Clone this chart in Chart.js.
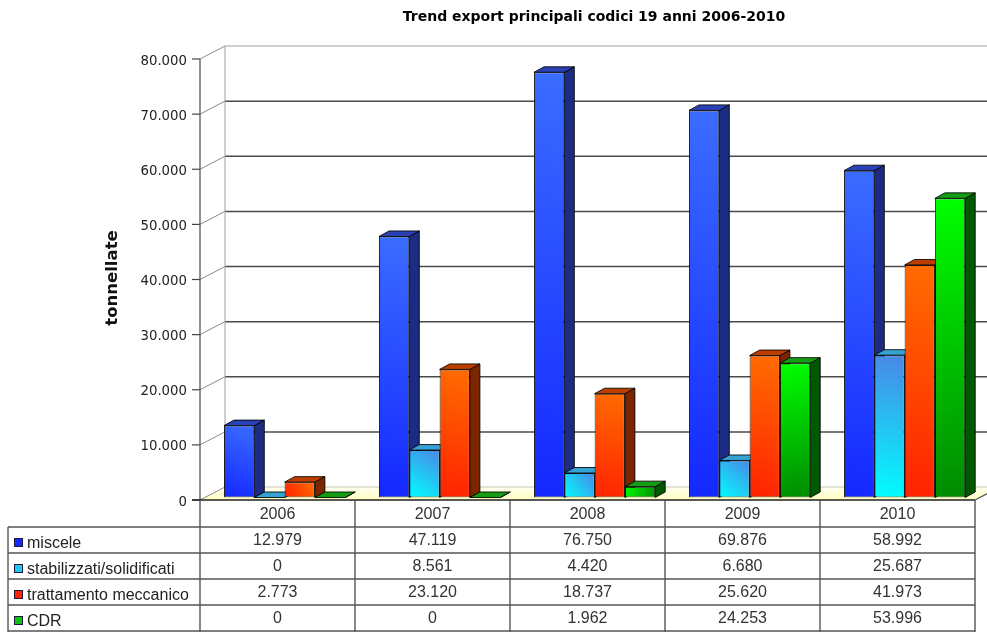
<!DOCTYPE html>
<html>
<head>
<meta charset="utf-8">
<script src="https://cdn.jsdelivr.net/npm/chart.js@4.4.1/dist/chart.umd.min.js"></script>
<style>
  html, body { margin: 0; padding: 0; background: #fff; }
  canvas { display: block; }
</style>
</head>
<body>
<canvas id="chart" width="987" height="632"></canvas>
<script>
// ---- data ----
const years = ['2006', '2007', '2008', '2009', '2010'];
const seriesNames = ['miscele', 'stabilizzati/solidificati', 'trattamento meccanico', 'CDR'];
const miscele = [12979, 47119, 76750, 69876, 58992];
const stabilizzati = [0, 8561, 4420, 6680, 25687];
const trattamento = [2773, 23120, 18737, 25620, 41973];
const cdr = [0, 0, 1962, 24253, 53996];
const yMax = 80000;
const yStep = 10000;

const chartTitle = 'Trend export principali codici 19 anni 2006-2010';
const yTitle = 'tonnellate';

// ---- look ----
const palette = [
  { from: '#1428ff', to: '#3b6cff', dir: 'up',   side: '#1b2c82', top: '#2a40b6' },
  { from: '#00ffff', to: '#4a86e6', dir: 'up',   side: '#1f78a8', top: '#34a2d2' },
  { from: '#ff2200', to: '#ff6c00', dir: 'up',   side: '#7c2600', top: '#bd3c00' },
  { from: '#00ff00', to: '#008a00', dir: 'down', side: '#005800', top: '#159c15' }
];

// front plane of the plot box (axis, floor edge, table columns)
const PLOT_LEFT = 200, PLOT_RIGHT = 975;
const FRONT_TOP = 59, FRONT_BOTTOM = 500;
// bars stand a little behind the front plane
const BAR_SHIFT_X = 7.1, BAR_TOP = 54.3, BAR_BOTTOM = 497.5;
// depth of the side wall / floor, and of each bar
const WALL_DX = 25, WALL_DY = 13;
const BAR_DX = 10, BAR_DY = 5.5;
// data table
const TABLE_TOP = 527, ROW_H = 26, TABLE_LEFT = 8;

const W = 987, H = 632;
const fmt = v => String(v).replace(/\B(?=(\d{3})+(?!\d))/g, '.');

Chart.defaults.font.family = '"Liberation Sans", Arial, sans-serif';

function frontFill(idx) {
  return c => {
    const p = palette[idx];
    const el = c.element;
    if (!el || !Number.isFinite(el.x) || !el.width) return p.from;
    const l = el.x - el.width / 2, r = el.x + el.width / 2;
    const top = Math.min(el.y, el.base), bot = Math.max(el.y, el.base);
    const g = p.dir === 'up'
      ? c.chart.ctx.createLinearGradient(l, bot, r, top)
      : c.chart.ctx.createLinearGradient(l, top, r, bot);
    g.addColorStop(0, p.from);
    g.addColorStop(1, p.to);
    return g;
  };
}

const seriesValues = [miscele, stabilizzati, trattamento, cdr];

function poly(ctx, pts, fill, stroke) {
  ctx.beginPath();
  ctx.moveTo(pts[0][0], pts[0][1]);
  for (let i = 1; i < pts.length; i++) ctx.lineTo(pts[i][0], pts[i][1]);
  ctx.closePath();
  ctx.fillStyle = fill;
  ctx.fill();
  if (stroke) { ctx.strokeStyle = stroke; ctx.lineWidth = 1; ctx.stroke(); }
}

function line(ctx, x1, y1, x2, y2, color, w) {
  ctx.beginPath();
  ctx.moveTo(x1, y1);
  ctx.lineTo(x2, y2);
  ctx.strokeStyle = color;
  ctx.lineWidth = w;
  ctx.stroke();
}

const depthPlugin = {
  id: 'depth3d',
  beforeDraw(chart) {
    const ctx = chart.ctx;
    ctx.save();
    ctx.fillStyle = '#ffffff';
    ctx.fillRect(0, 0, W, H);
    ctx.restore();
  },
  beforeDatasetsDraw(chart) {
    const ctx = chart.ctx;
    const y = chart.scales.y;
    const fy = v => FRONT_BOTTOM - (v - y.min) / (y.max - y.min) * (FRONT_BOTTOM - FRONT_TOP);
    const ticks = y.ticks.map(t => t.value);
    ctx.save();

    // floor
    const f0 = fy(0);
    const floorGrad = ctx.createLinearGradient(0, f0, 0, f0 - WALL_DY);
    floorGrad.addColorStop(0, '#ffffc0');
    floorGrad.addColorStop(1, '#fffff0');
    poly(ctx, [[PLOT_LEFT, f0], [PLOT_RIGHT, f0], [PLOT_RIGHT + WALL_DX, f0 - WALL_DY], [PLOT_LEFT + WALL_DX, f0 - WALL_DY]], floorGrad);

    // back wall grid and left wall diagonals
    ticks.forEach(v => {
      const yf = fy(v), yb = yf - WALL_DY;
      const isTop = v === y.max, isZero = v === y.min;
      line(ctx, PLOT_LEFT, yf, PLOT_LEFT + WALL_DX, yb, '#8a8a8a', 1);
      line(ctx, PLOT_LEFT + WALL_DX, yb, W, yb, isTop ? '#a0a0a0' : (isZero ? '#c8c8b0' : '#4a4a4a'), isTop || isZero ? 1 : 1.5);
      // tick mark on the front axis
      line(ctx, PLOT_LEFT - 8, yf, PLOT_LEFT, yf, '#444', 1.2);
    });
    line(ctx, PLOT_LEFT + WALL_DX, fy(y.max) - WALL_DY, PLOT_LEFT + WALL_DX, f0 - WALL_DY, '#a0a0a0', 1);

    // front axis and floor edges
    line(ctx, PLOT_LEFT, fy(y.max), PLOT_LEFT, f0, '#555', 1.3);
    line(ctx, PLOT_LEFT - 8, f0, PLOT_RIGHT, f0, '#222', 1.5);
    line(ctx, PLOT_RIGHT, f0, PLOT_RIGHT + WALL_DX, f0 - WALL_DY, '#555', 1.2);

    // bar side and top faces, left to right inside each group
    const metas = chart.data.datasets.map((_, d) => chart.getDatasetMeta(d));
    for (let i = 0; i < years.length; i++) {
      metas.forEach((meta, d) => {
        const el = meta.data[i];
        if (!el) return;
        const p = palette[d];
        const l = el.x - el.width / 2, r = el.x + el.width / 2;
        const top = Math.min(el.y, el.base), base = Math.max(el.y, el.base);
        poly(ctx, [[r, top], [r + BAR_DX, top - BAR_DY], [r + BAR_DX, base - BAR_DY], [r, base]], p.side, 'rgba(0,0,0,0.85)');
        poly(ctx, [[l, top], [l + BAR_DX, top - BAR_DY], [r + BAR_DX, top - BAR_DY], [r, top]], p.top, 'rgba(0,0,0,0.85)');
      });
    }
    ctx.restore();
  },
  afterDraw(chart) {
    const ctx = chart.ctx;
    const y = chart.scales.y, x = chart.scales.x;
    const fy = v => FRONT_BOTTOM - (v - y.min) / (y.max - y.min) * (FRONT_BOTTOM - FRONT_TOP);
    ctx.save();

    // title
    ctx.fillStyle = '#000';
    ctx.font = 'bold 14px "DejaVu Sans"';
    ctx.textAlign = 'center';
    ctx.textBaseline = 'alphabetic';
    ctx.fillText(chartTitle, 594, 21);

    // y tick labels
    ctx.fillStyle = '#222';
    ctx.font = '13.3px "DejaVu Sans"';
    ctx.textAlign = 'right';
    y.ticks.forEach(t => ctx.fillText(fmt(t.value), PLOT_LEFT - 13, fy(t.value) + 5.5));

    // y axis title
    ctx.save();
    ctx.translate(113, 278);
    ctx.rotate(-Math.PI / 2);
    ctx.fillStyle = '#111';
    ctx.font = 'bold 16.5px "DejaVu Sans"';
    ctx.textAlign = 'center';
    ctx.textBaseline = 'middle';
    ctx.fillText(yTitle, 0, 0);
    ctx.restore();

    // data table
    const colW = (x.getPixelForValue(1) - x.getPixelForValue(0));
    const colCenter = i => x.getPixelForValue(i) - BAR_SHIFT_X;
    const f0 = fy(0);
    const rows = seriesNames.length;
    const tableBottom = TABLE_TOP + rows * ROW_H;

    ctx.strokeStyle = '#555';
    ctx.lineWidth = 1.4;
    for (let i = 0; i <= years.length; i++) {
      const cx = colCenter(0) - colW / 2 + i * colW;
      line(ctx, cx, f0, cx, H, '#555', 1.4);
    }
    for (let r = 0; r <= rows; r++) {
      const ry = TABLE_TOP + r * ROW_H;
      line(ctx, TABLE_LEFT, ry, PLOT_RIGHT, ry, '#555', 1.4);
    }
    line(ctx, TABLE_LEFT, TABLE_TOP, TABLE_LEFT, H, '#555', 1.4);

    ctx.font = '16px "Liberation Sans"';
    ctx.fillStyle = '#333';
    ctx.textAlign = 'center';
    years.forEach((yr, i) => ctx.fillText(yr, colCenter(i), f0 + 19));

    seriesNames.forEach((name, r) => {
      const top = TABLE_TOP + r * ROW_H;
      const p = palette[r];
      ctx.fillStyle = r === 1 ? '#22c8f0' : (r === 3 ? '#10c010' : p.from);
      ctx.fillRect(14, top + 11, 9, 9);
      ctx.strokeStyle = '#1a1a40';
      ctx.lineWidth = 1;
      ctx.strokeRect(14.5, top + 11.5, 8, 8);
      ctx.fillStyle = '#222';
      ctx.textAlign = 'left';
      ctx.fillText(name, 27, top + 20.5);
      ctx.fillStyle = '#333';
      ctx.textAlign = 'center';
      seriesValues[r].forEach((v, i) => ctx.fillText(fmt(v), colCenter(i), top + 17.7));
    });
    ctx.restore();
  }
};

const chart = new Chart(document.getElementById('chart').getContext('2d'), {
  type: 'bar',
  data: {
    labels: years,
    datasets: seriesNames.map((name, d) => ({
      label: name,
      data: seriesValues[d],
      backgroundColor: frontFill(d),
      borderColor: 'rgba(0,0,0,0.85)',
      borderWidth: 1,
      borderSkipped: false,
      categoryPercentage: 0.782,
      barPercentage: 1
    }))
  },
  options: {
    responsive: false,
    animation: false,
    events: [],
    layout: {
      padding: {
        left: PLOT_LEFT + BAR_SHIFT_X,
        right: W - (PLOT_RIGHT + BAR_SHIFT_X),
        top: BAR_TOP,
        bottom: H - BAR_BOTTOM
      }
    },
    plugins: {
      legend: { display: false },
      title: { display: false },
      tooltip: { enabled: false }
    },
    scales: {
      x: { display: false, offset: true },
      y: { display: false, min: 0, max: yMax, ticks: { stepSize: yStep } }
    }
  },
  plugins: [depthPlugin]
});
// second pass so the gradients know each bar's final geometry
chart.update('none');
</script>
</body>
</html>
